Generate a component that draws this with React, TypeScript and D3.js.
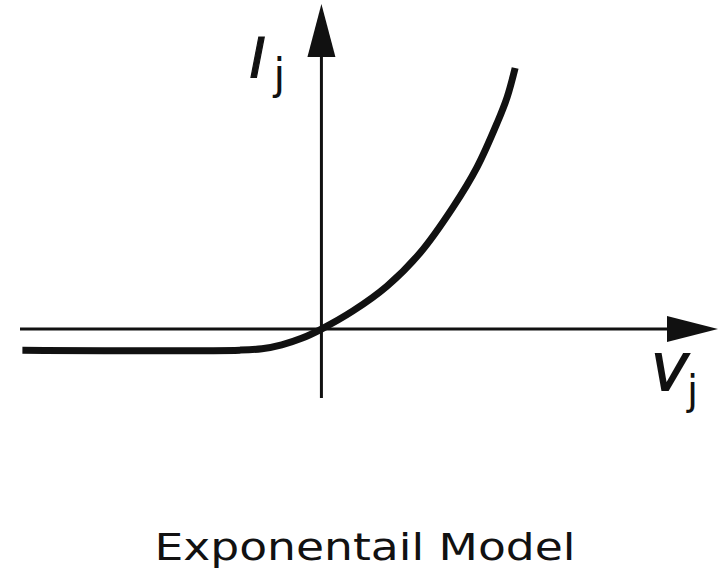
import React, { useEffect, useRef } from "react";
import * as d3 from "d3";

// junction voltage (x) and current (y)
const voltage = [-1.508, -0.411, -0.3, -0.2, -0.1, 0, 0.159, 0.331, 0.497, 0.664, 0.785, 0.886, 0.937, 0.977];
const current = [-0.107, -0.107, -0.1, -0.08, -0.047, 0, 0.092, 0.218, 0.386, 0.619, 0.822, 1.046, 1.178, 1.325];

const xLabel = "V";
const yLabel = "I";
const subscript = "j";
const caption = "Exponentail Model";

const W = 727;
const H = 581;

const App = () => {
  const svgRef = useRef<SVGSVGElement>(null);

  useEffect(() => {
    document.body.style.margin = "0";
    const svg = d3.select(svgRef.current);
    svg.selectAll("*").remove();

    const x = d3.scaleLinear().domain([-1.51, 2]).range([22, 718]);
    const y = d3.scaleLinear().domain([-0.35, 1.65]).range([398, 4]);

    const x0 = x(0);
    const y0 = y(0);
    const ink = "#111";

    // horizontal axis
    const xEnd = x.range()[1];
    svg.append("line")
      .attr("x1", x.range()[0] - 2).attr("x2", xEnd - 48)
      .attr("y1", y0).attr("y2", y0)
      .attr("stroke", ink).attr("stroke-width", 3);
    svg.append("path")
      .attr("d", `M${xEnd},${y0} L${xEnd - 51},${y0 - 13} L${xEnd - 51},${y0 + 13} Z`)
      .attr("fill", ink);

    // vertical axis
    const yTop = y.range()[1];
    svg.append("line")
      .attr("x1", x0).attr("x2", x0)
      .attr("y1", y.range()[0]).attr("y2", yTop + 50)
      .attr("stroke", ink).attr("stroke-width", 3);
    svg.append("path")
      .attr("d", `M${x0},${yTop} L${x0 - 14},${yTop + 53} L${x0 + 14},${yTop + 53} Z`)
      .attr("fill", ink);

    // the I-V curve
    const pts = voltage.map((v, i) => [v, current[i]] as [number, number]);
    const line = d3.line<[number, number]>()
      .x((d) => x(d[0]))
      .y((d) => y(d[1]))
      .curve(d3.curveCatmullRom.alpha(0.5));
    svg.append("path")
      .attr("d", line(pts))
      .attr("fill", "none")
      .attr("stroke", ink)
      .attr("stroke-width", 7);

    // axis labels (letter + subscript in one text element)
    const yl = svg.append("text")
      .attr("font-family", "DejaVu Sans")
      .attr("fill", ink);
    yl.append("tspan")
      .attr("x", x0 - 72).attr("y", 77)
      .attr("font-style", "oblique")
      .attr("font-size", 55)
      .attr("stroke", ink)
      .attr("stroke-width", 1.2)
      .text(yLabel);
    yl.append("tspan")
      .attr("x", x0 - 48).attr("y", 89)
      .attr("font-size", 42)
      .text(subscript);

    const xl = svg.append("text")
      .attr("font-family", "DejaVu Sans")
      .attr("fill", ink);
    xl.append("tspan")
      .attr("x", xEnd - 66).attr("y", 390)
      .attr("font-style", "oblique")
      .attr("font-size", 50)
      .attr("stroke", ink)
      .attr("stroke-width", 2)
      .text(xLabel);
    xl.append("tspan")
      .attr("x", xEnd - 31).attr("y", 404)
      .attr("font-size", 40)
      .text(subscript);

    // caption
    svg.append("text")
      .attr("transform", "translate(365,560) scale(1.2,1)")
      .attr("text-anchor", "middle")
      .attr("font-family", "DejaVu Sans")
      .attr("font-size", 38)
      .attr("fill", ink)
      .text(caption);
  }, []);

  return (
    <svg ref={svgRef} width={W} height={H} style={{ display: "block", background: "#fff" }} />
  );
};

export default App;
